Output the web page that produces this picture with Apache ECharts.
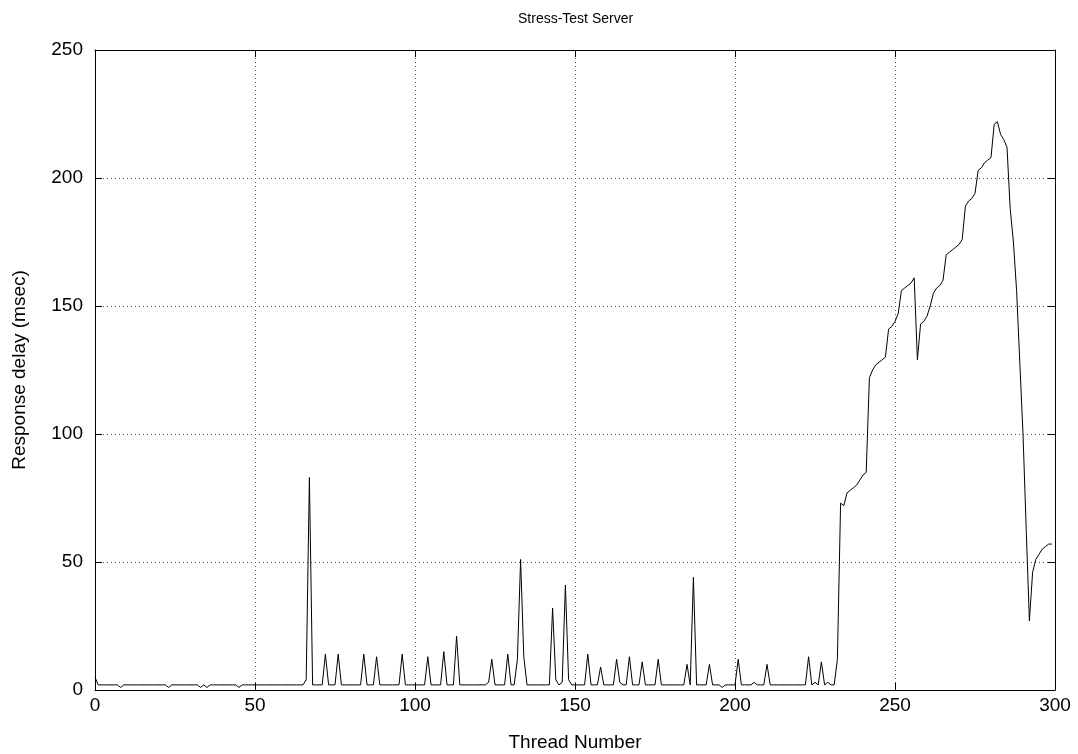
<!DOCTYPE html>
<html>
<head>
<meta charset="utf-8">
<title>Stress-Test Server</title>
<script src="https://cdn.jsdelivr.net/npm/echarts@6/dist/echarts.min.js"></script>
<style>
  html, body { margin: 0; padding: 0; background: #fff; }
  #chart { width: 1078px; height: 754px; }
</style>
</head>
<body>
<div id="chart"></div>
<script>
// Response delay per thread, threads 0..299
const threadStart = 0;
const delays = [
  5, 2, 2, 2, 2, 2, 2, 2, 1, 2, 2, 2, 2, 2, 2, 2, 2, 2, 2, 2,
  2, 2, 2, 1, 2, 2, 2, 2, 2, 2, 2, 2, 2, 1, 2, 1, 2, 2, 2, 2,
  2, 2, 2, 2, 2, 1, 2, 2, 2, 2, 2, 2, 2, 2, 2, 2, 2, 2, 2, 2,
  2, 2, 2, 2, 2, 2, 4, 83, 2, 2, 2, 2, 14, 2, 2, 2, 14, 2, 2, 2,
  2, 2, 2, 2, 14, 2, 2, 2, 13, 2, 2, 2, 2, 2, 2, 2, 14, 2, 2, 2,
  2, 2, 2, 2, 13, 2, 2, 2, 2, 15, 2, 2, 2, 21, 2, 2, 2, 2, 2, 2,
  2, 2, 2, 3, 12, 2, 2, 2, 2, 14, 2, 2, 12, 51, 13, 2, 2, 2, 2, 2,
  2, 2, 2, 32, 4, 2, 3, 41, 4, 2, 2, 2, 2, 2, 14, 2, 2, 2, 9, 2,
  2, 2, 2, 12, 3, 2, 2, 13, 2, 2, 2, 11, 2, 2, 2, 2, 12, 2, 2, 2,
  2, 2, 2, 2, 2, 10, 2, 44, 2, 2, 2, 2, 10, 2, 2, 2, 1, 2, 2, 2,
  2, 12, 2, 2, 2, 2, 3, 2, 2, 2, 10, 2, 2, 2, 2, 2, 2, 2, 2, 2,
  2, 2, 2, 13, 2, 3, 2, 11, 2, 3, 2, 2, 12, 73, 72, 77, 78, 79, 80, 82,
  84, 85, 122, 125, 127, 128, 129, 130, 141, 142, 144, 147, 156, 157, 158, 159, 161, 129, 143, 144,
  146, 150, 155, 157, 158, 160, 170, 171, 172, 173, 174, 176, 189, 191, 192, 194, 203, 204, 206, 207,
  208, 221, 222, 217, 215, 212, 188, 175, 156, 128, 100, 63, 27, 46, 51, 53, 55, 56, 57, 57
];

const xTicks = [0, 50, 100, 150, 200, 250, 300];
const yTicks = [0, 50, 100, 150, 200, 250];

const chartTitle = 'Stress-Test Server';
const xName = 'Thread Number';
const yName = 'Response delay (msec)';

const points = delays.map((v, i) => [threadStart + i, v]);

const FONT = 'Liberation Sans, Arial, Helvetica, sans-serif';
const LABEL_SIZE = 19;

const gridLine = { show: true, lineStyle: { color: '#555', width: 1, type: [1, 3] } };
const frameLine = { show: true, onZero: false, lineStyle: { color: '#000', width: 1 } };
const innerTick = { show: true, inside: true, length: 7, lineStyle: { color: '#000', width: 1 } };

const chart = echarts.init(document.getElementById('chart'), null, { renderer: 'canvas' });

chart.setOption({
  animation: false,
  backgroundColor: '#fff',
  title: {
    text: chartTitle,
    left: 513,
    top: 7,
    textStyle: { fontFamily: FONT, fontSize: 14, fontWeight: 'normal', color: '#000' }
  },
  grid: { left: 95, right: 23, top: 50, bottom: 64, containLabel: false, outerBoundsMode: 'none' },
  xAxis: [
    {
      type: 'value',
      position: 'bottom',
      min: xTicks[0],
      max: xTicks[xTicks.length - 1],
      interval: xTicks[1] - xTicks[0],
      name: xName,
      nameLocation: 'middle',
      nameGap: 43,
      nameTextStyle: { fontFamily: FONT, fontSize: LABEL_SIZE, color: '#000' },
      axisLine: frameLine,
      axisTick: innerTick,
      splitLine: gridLine,
      axisLabel: { fontFamily: FONT, fontSize: LABEL_SIZE, color: '#000', margin: 6 }
    },
    {
      type: 'value',
      position: 'top',
      min: xTicks[0],
      max: xTicks[xTicks.length - 1],
      interval: xTicks[1] - xTicks[0],
      axisLine: frameLine,
      axisTick: innerTick,
      splitLine: { show: false },
      axisLabel: { show: false }
    }
  ],
  yAxis: [
    {
      type: 'value',
      position: 'left',
      min: yTicks[0],
      max: yTicks[yTicks.length - 1],
      interval: yTicks[1] - yTicks[0],
      name: yName,
      nameLocation: 'middle',
      nameGap: 66,
      nameRotate: 90,
      nameTextStyle: { fontFamily: FONT, fontSize: LABEL_SIZE, color: '#000' },
      axisLine: frameLine,
      axisTick: innerTick,
      splitLine: gridLine,
      axisLabel: { fontFamily: FONT, fontSize: LABEL_SIZE, color: '#000', margin: 12 }
    },
    {
      type: 'value',
      position: 'right',
      min: yTicks[0],
      max: yTicks[yTicks.length - 1],
      interval: yTicks[1] - yTicks[0],
      axisLine: frameLine,
      axisTick: innerTick,
      splitLine: { show: false },
      axisLabel: { show: false }
    }
  ],
  series: [
    {
      type: 'line',
      xAxisIndex: 0,
      yAxisIndex: 0,
      data: points,
      showSymbol: false,
      symbol: 'none',
      lineStyle: { color: '#000', width: 1 },
      z: 5
    }
  ]
});
</script>
</body>
</html>
